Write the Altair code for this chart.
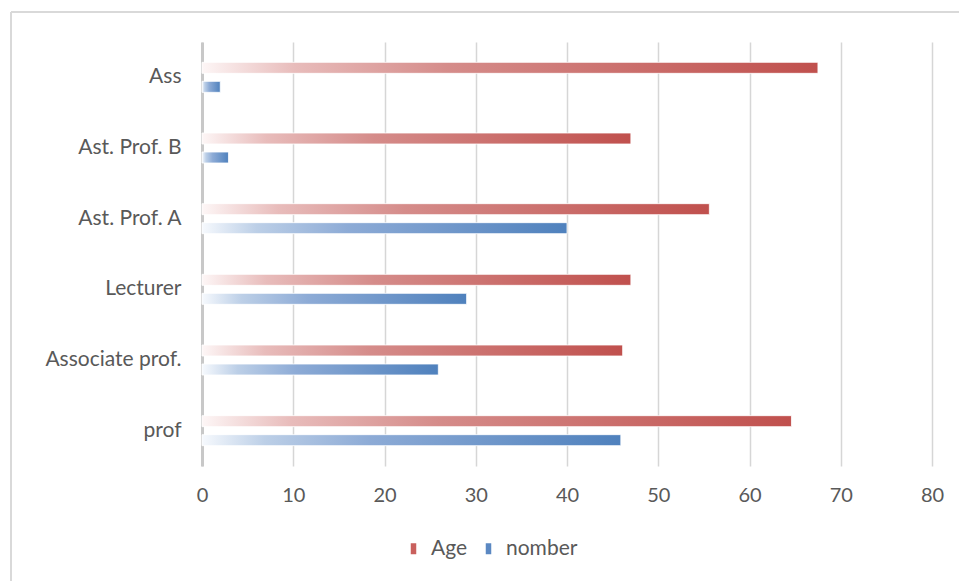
import altair as alt
import pandas as pd

categories = ["Ass", "Ast. Prof. B", "Ast. Prof. A", "Lecturer", "Associate prof.", "prof"]
age = [67.5, 47.0, 55.6, 47.0, 46.1, 64.6]
nomber = [2.0, 2.9, 40.0, 29.0, 25.9, 45.9]
series = ["Age", "nomber"]
x_ticks = [0, 10, 20, 30, 40, 50, 60, 70, 80]

wide = pd.DataFrame({"category": categories, "Age": age, "nomber": nomber})
long = wide.melt(id_vars="category", var_name="series", value_name="value")

FONT = "Lato"
TEXT = "#595959"


def x_enc(field):
    return alt.X(
        field,
        type="quantitative",
        scale=alt.Scale(domain=[0, 80], nice=False, zero=True),
        axis=alt.Axis(
            values=x_ticks, grid=True, gridColor="#d6d6d6", gridWidth=1.5,
            domain=False, ticks=False, labelPadding=19, labelFontSize=20,
            labelColor=TEXT, labelFont=FONT, title=None, labelFlush=False,
        ),
    )


y_enc = alt.Y(
    "category:N",
    sort=categories,
    scale=alt.Scale(paddingInner=0, paddingOuter=0),
    axis=alt.Axis(
        domain=True, domainColor="#c8c8c8", domainWidth=3, ticks=False,
        labelPadding=21, labelFontSize=21, labelColor=TEXT, labelFont=FONT,
        title=None, grid=False,
    ),
)

red_grad = alt.Gradient(
    gradient="linear", x1=0, x2=1, y1=0, y2=0,
    stops=[
        alt.GradientStop(offset=0, color="#fdf6f6"),
        alt.GradientStop(offset=0.15, color="#e8bcbb"),
        alt.GradientStop(offset=0.4, color="#d58c8a"),
        alt.GradientStop(offset=1, color="#c0504d"),
    ],
)
blue_grad = alt.Gradient(
    gradient="linear", x1=0, x2=1, y1=0, y2=0,
    stops=[
        alt.GradientStop(offset=0, color="#f6f9fd"),
        alt.GradientStop(offset=0.15, color="#bccfe7"),
        alt.GradientStop(offset=0.4, color="#8dabd6"),
        alt.GradientStop(offset=1, color="#4f81bd"),
    ],
)

age_bars = alt.Chart(wide).mark_bar(
    height=11, yOffset=-9.5, fill=red_grad, stroke="white", strokeWidth=0.8
).encode(x=x_enc("Age"), y=y_enc)

num_bars = alt.Chart(wide).mark_bar(
    height=11, yOffset=9.5, fill=blue_grad, stroke="white", strokeWidth=0.8
).encode(x=x_enc("nomber"), y=y_enc)

legend_layer = alt.Chart(long).mark_square(opacity=0).encode(
    x=x_enc("value"),
    y=y_enc,
    color=alt.Color(
        "series:N",
        scale=alt.Scale(domain=series, range=["#c9605d", "#5b88c2"]),
        legend=alt.Legend(
            orient="none", legendX=201, legendY=496, direction="horizontal",
            title=None, symbolType="M-0.5,-1H0.5V1H-0.5Z", symbolSize=121,
            symbolOpacity=1, symbolStrokeWidth=0, labelFontSize=21,
            labelColor=TEXT, labelFont=FONT, labelOffset=7, columnPadding=10,
        ),
    ),
)

frame = alt.Data(values=[{"k": 1}])
left_border = alt.Chart(frame).mark_rule(color="#d9d9d9", strokeWidth=2).encode(
    x=alt.value(-191), y=alt.value(-30), y2=alt.value(560)
)
top_border = alt.Chart(frame).mark_rule(color="#d9d9d9", strokeWidth=2).encode(
    x=alt.value(-191), x2=alt.value(800), y=alt.value(-30)
)

chart = alt.layer(legend_layer, age_bars, num_bars, left_border, top_border).properties(
    width=730, height=424,
    background="white",
    autosize=alt.AutoSizeParams(type="none"),
    padding={"left": 202, "top": 42, "right": 27, "bottom": 115},
).configure_view(stroke=None)

chart.save("out.html", embed_options={"renderer": "svg", "actions": False})
